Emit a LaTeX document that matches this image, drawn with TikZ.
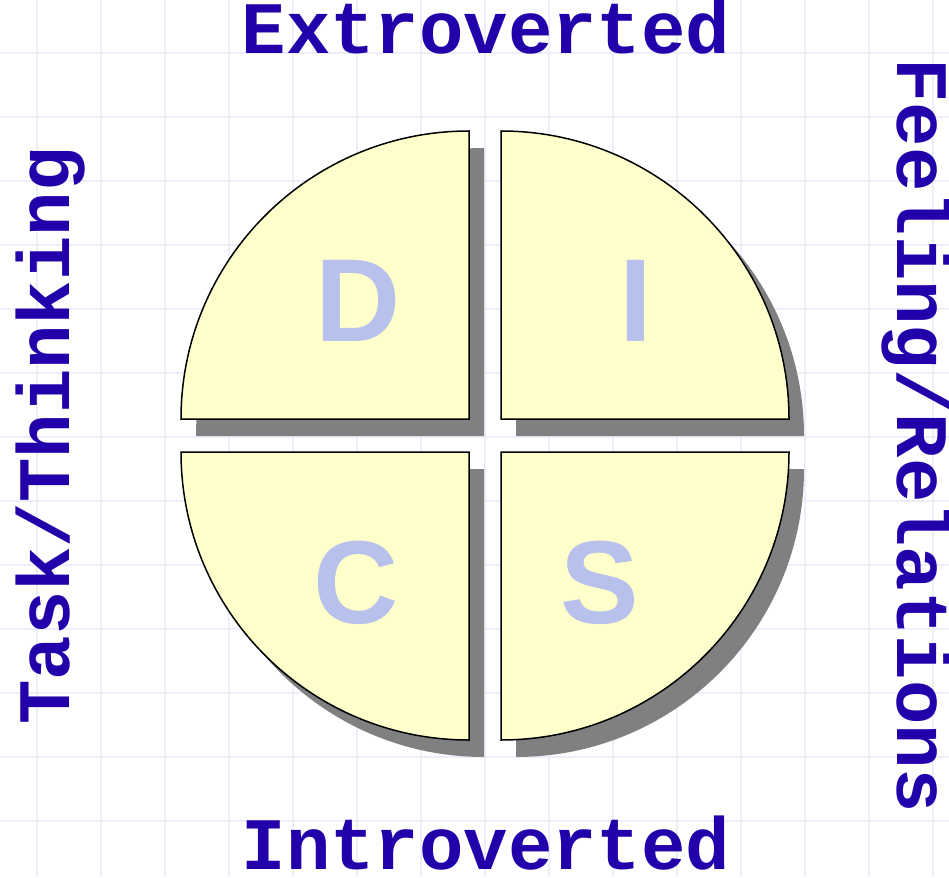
\documentclass[tikz,border=0pt]{standalone}
\usepackage{fontspec}
\newfontfamily\courfont{Liberation Mono}
\newfontfamily\arialfont{Liberation Sans}
\definecolor{gridc}{RGB}{236,238,252}
\definecolor{txtc}{RGB}{34,0,170}
\definecolor{quadfill}{RGB}{255,255,204}
\definecolor{shadowc}{RGB}{128,128,128}
\definecolor{letterc}{RGB}{184,192,236}
\begin{document}
\begin{tikzpicture}[x=1pt,y=-1pt,
  axislabel/.style={font=\courfont\bfseries\fontsize{74}{74}\selectfont, text=txtc, inner sep=0pt, anchor=base},
  discletter/.style={font=\arialfont\bfseries\fontsize{118}{118}\selectfont, text=letterc, inner sep=0pt, anchor=base},
  quad/.style={fill=quadfill, draw=black, line width=1.5pt, line join=miter},
  quadshadow/.style={fill=shadowc},
  gridline/.style={draw=gridc, line width=2pt}]
\fill[white] (0,0) rectangle (949,877);
\useasboundingbox (0,0) rectangle (949,877);
% grid
\foreach \gx in {0,...,14} \draw[gridline] ({37+64*\gx},0) -- ({37+64*\gx},877);
\foreach \gy in {0,...,12} \draw[gridline] (0,{53+64*\gy}) -- (949,{53+64*\gy});
% shadows
\begin{scope}[shift={(15,17)}]
  \fill[quadshadow] (469,419) -- (181,419) arc[start angle=180,end angle=270,radius=288] -- cycle;
  \fill[quadshadow] (501,419) -- (501,131) arc[start angle=270,end angle=360,radius=288] -- cycle;
  \fill[quadshadow] (501,452) -- (789,452) arc[start angle=0,end angle=90,radius=288] -- cycle;
  \fill[quadshadow] (469,452) -- (469,740) arc[start angle=90,end angle=180,radius=288] -- cycle;
\end{scope}
% quarters
\draw[quad] (469,419) -- (181,419) arc[start angle=180,end angle=270,radius=288] -- cycle;
\draw[quad] (501,419) -- (501,131) arc[start angle=270,end angle=360,radius=288] -- cycle;
\draw[quad] (501,452) -- (789,452) arc[start angle=0,end angle=90,radius=288] -- cycle;
\draw[quad] (469,452) -- (469,740) arc[start angle=90,end angle=180,radius=288] -- cycle;
% letters
\node[discletter] (D) at (358,341) {D};
\node[discletter] (I) at (636,341) {I};
\node[discletter] (C) at (356,623) {C};
\node[discletter] (S) at (600,623) {S};
% axis labels
\node[axislabel] (extro) at (486,54) {Extroverted};
\node[axislabel] (intro) at (486,869) {Introverted};
\node[axislabel, rotate=90] (task) at (69,436) {Task/Thinking};
\node[axislabel, rotate=-90] (feel) at (897,436) {Feeling/Relations};
\end{tikzpicture}
\end{document}
